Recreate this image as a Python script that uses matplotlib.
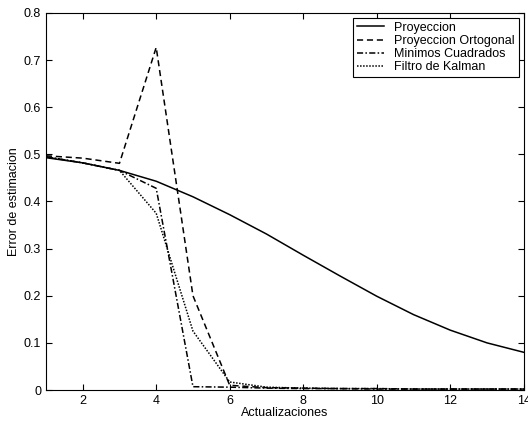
import numpy as np
import matplotlib.pyplot as plt

plt.rcParams['font.family'] = ['Liberation Sans', 'DejaVu Sans']

# Datos
actualizaciones = list(range(1, 15))
proyeccion = [0.493, 0.482, 0.466, 0.443, 0.410, 0.372, 0.331, 0.286, 0.242,
              0.199, 0.160, 0.127, 0.100, 0.080]
proy_ortogonal = [0.497, 0.492, 0.481, 0.727, 0.200, 0.010, 0.005, 0.004, 0.003,
                  0.003, 0.002, 0.002, 0.002, 0.002]
minimos_cuadrados = [0.495, 0.482, 0.466, 0.428, 0.007, 0.006, 0.004, 0.003, 0.003,
                     0.002, 0.002, 0.002, 0.002, 0.002]
filtro_kalman = [0.495, 0.482, 0.466, 0.375, 0.125, 0.017, 0.006, 0.004, 0.003,
                 0.003, 0.002, 0.002, 0.002, 0.002]

fig = plt.figure(figsize=(5.28, 4.26), dpi=100)
ax = fig.add_axes([0.087, 0.0845, 0.905, 0.885])

ax.plot(actualizaciones, proyeccion, 'k-', lw=1.1, label='Proyeccion')
ax.plot(actualizaciones, proy_ortogonal, 'k--', lw=1.1, dashes=(4, 2.5),
        label='Proyeccion Ortogonal')
ax.plot(actualizaciones, minimos_cuadrados, 'k-.', lw=1.1, dashes=(4, 1.5, 1, 1.5),
        label='Minimos Cuadrados')
ax.plot(actualizaciones, filtro_kalman, 'k:', lw=1.1, dashes=(1, 1),
        label='Filtro de Kalman')

ax.set_xlim(1, 14)
ax.set_ylim(0, 0.8)
ax.set_xticks([2, 4, 6, 8, 10, 12, 14])
ax.set_yticks(np.arange(0, 0.81, 0.1))
ax.set_yticklabels(['0', '0.1', '0.2', '0.3', '0.4', '0.5', '0.6', '0.7', '0.8'])
ax.tick_params(direction='in', top=True, right=True, labelsize=9, length=4, width=0.8)
for s in ax.spines.values():
    s.set_linewidth(0.8)

ax.set_xlabel('Actualizaciones', fontsize=9, labelpad=0)
ax.set_ylabel('Error de estimacion', fontsize=9, labelpad=3)

leg = ax.legend(loc='upper right', fontsize=9, fancybox=False, framealpha=1,
                edgecolor='black', borderaxespad=0.4, handlelength=2.2,
                labelspacing=0.1, borderpad=0.3, handletextpad=0.8)
leg.get_frame().set_linewidth(0.8)

fig.savefig('out.png', dpi=100)
